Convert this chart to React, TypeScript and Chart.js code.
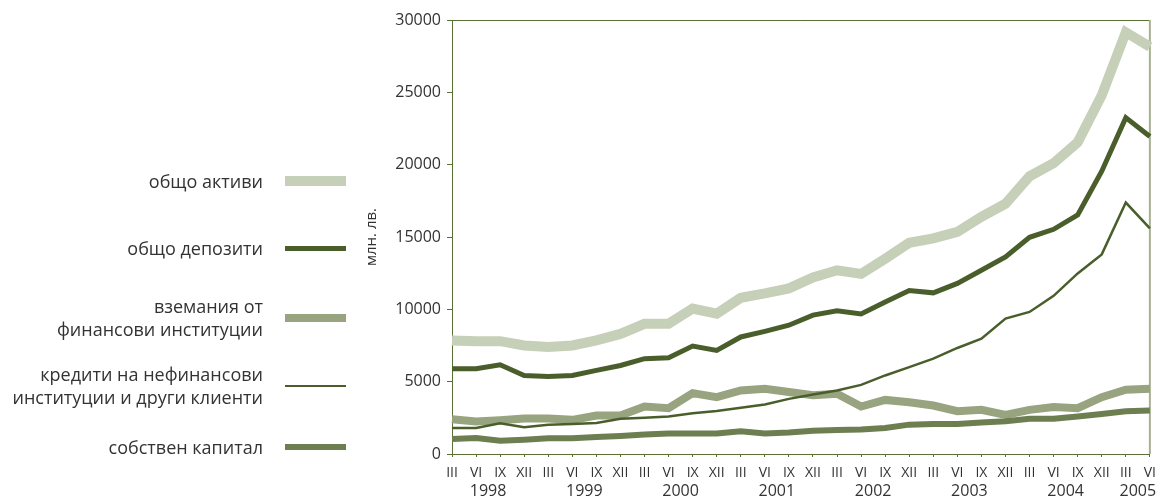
import React, { useEffect, useRef } from "react";
import { Chart, registerables } from "chart.js";

Chart.register(...registerables);

const quarters = [
  "III", "VI", "IX", "XII", "III", "VI", "IX", "XII", "III", "VI", "IX", "XII",
  "III", "VI", "IX", "XII", "III", "VI", "IX", "XII", "III", "VI", "IX", "XII",
  "III", "VI", "IX", "XII", "III", "VI",
];
const years = ["1998", "1999", "2000", "2001", "2002", "2003", "2004", "2005"];
const yearStart = [0, 4, 8, 12, 16, 20, 24, 28];
const yearEnd = [3, 7, 11, 15, 19, 23, 27, 29];

const totalAssets = [
  7850, 7800, 7800, 7500, 7400, 7500, 7850, 8300, 9000, 9000, 10050, 9700,
  10800, 11100, 11450, 12200, 12700, 12450, 13500, 14600, 14900, 15350, 16400, 17300,
  19200, 20100, 21550, 24800, 29150, 28150,
];
const totalDeposits = [
  5900, 5900, 6170, 5430, 5360, 5430, 5780, 6120, 6590, 6660, 7460, 7160,
  8090, 8480, 8900, 9600, 9900, 9680, 10500, 11300, 11140, 11790, 12700, 13630,
  14980, 15530, 16520, 19550, 23250, 21950,
];
const finReceivables = [
  2400, 2250, 2340, 2450, 2450, 2360, 2660, 2660, 3280, 3170, 4210, 3930,
  4390, 4510, 4280, 4060, 4160, 3280, 3740, 3580, 3350, 2960, 3050, 2700,
  3050, 3240, 3170, 3930, 4440, 4510,
];
const loans = [
  1800, 1800, 2130, 1850, 2030, 2080, 2150, 2430, 2500, 2590, 2820, 2980,
  3190, 3420, 3810, 4120, 4390, 4780, 5430, 6010, 6590, 7330, 7970, 9360,
  9820, 10930, 12480, 13800, 17380, 15600,
];
const equity = [
  1040, 1110, 920, 990, 1090, 1090, 1180, 1250, 1340, 1410, 1410, 1410,
  1570, 1410, 1480, 1600, 1660, 1690, 1800, 2030, 2080, 2080, 2170, 2260,
  2430, 2430, 2590, 2770, 2960, 3000,
];

const seriesLabels = [
  ["общо активи"],
  ["общо депозити"],
  ["вземания от", "финансови институции"],
  ["кредити на нефинансови", "институции и други клиенти"],
  ["собствен капитал"],
];
const seriesColors = ["#c6cfb8", "#4a5e2b", "#98a37f", "#4a5e2b", "#6d7f51"];
const seriesWidths = [10, 5, 8, 2.5, 6];
const seriesOrder = [5, 2, 4, 1, 3];
const legendY = [181, 248, 318, 386, 447];

const yTitle = "млн. лв.";
const FONT = "'Open Sans', 'DejaVu Sans', sans-serif";
const AXIS = "#5a7035";
const TEXT = "#333333";

export default function App() {
  const ref = useRef<HTMLCanvasElement | null>(null);

  useEffect(() => {
    if (!ref.current) return;
    const dataSets = [totalAssets, totalDeposits, finReceivables, loans, equity];

    const framePlugin = {
      id: "frame",
      beforeDatasetsDraw(chart: any) {
        const { ctx, chartArea } = chart;
        ctx.save();
        ctx.lineWidth = 1;
        ctx.strokeStyle = AXIS;
        ctx.beginPath();
        ctx.moveTo(chartArea.left, chartArea.top + 0.5);
        ctx.lineTo(chartArea.right, chartArea.top + 0.5);
        ctx.stroke();
        ctx.strokeStyle = "#a7b092";
        ctx.lineWidth = 2;
        ctx.beginPath();
        ctx.moveTo(chartArea.right, chartArea.top);
        ctx.lineTo(chartArea.right, chartArea.bottom);
        ctx.stroke();
        ctx.restore();
      },
      afterDraw(chart: any) {
        const { ctx } = chart;
        const xs = chart.scales.x;
        ctx.save();
        ctx.fillStyle = TEXT;
        ctx.font = `16px ${FONT}`;
        ctx.textAlign = "center";
        ctx.textBaseline = "middle";
        years.forEach((yr, i) => {
          const cx = (xs.getPixelForValue(yearStart[i]) + xs.getPixelForValue(yearEnd[i])) / 2;
          ctx.fillText(yr, cx, 491);
        });
        ctx.restore();
      },
    };

    const chart = new Chart(ref.current, {
      type: "line",
      data: {
        labels: quarters,
        datasets: dataSets.map((d, i) => ({
          label: seriesLabels[i].join(" "),
          data: d,
          borderColor: seriesColors[i],
          backgroundColor: seriesColors[i],
          borderWidth: seriesWidths[i],
          pointRadius: 0,
          tension: 0,
          fill: false,
          borderJoinStyle: "miter" as const,
          borderCapStyle: "butt" as const,
          order: seriesOrder[i],
        })),
      },
      options: {
        responsive: false,
        animation: false,
        layout: { padding: { left: 360, right: 8, top: 20, bottom: 0 } },
        plugins: { legend: { display: false }, tooltip: { enabled: false } },
        scales: {
          x: {
            type: "category",
            offset: false,
            grid: { display: true, drawOnChartArea: false, drawTicks: true, tickLength: 3, color: AXIS },
            border: { display: true, color: AXIS, width: 1 },
            ticks: {
              autoSkip: false,
              maxRotation: 0,
              minRotation: 0,
              padding: 8,
              color: TEXT,
              font: { family: FONT, size: 14 },
            },
            afterFit(scale: any) {
              scale.height = 45;
            },
          },
          y: {
            min: 0,
            max: 30000,
            grid: { display: true, drawOnChartArea: false, drawTicks: true, tickLength: 5, color: AXIS },
            border: { display: true, color: AXIS, width: 1 },
            ticks: {
              stepSize: 5000,
              padding: 6,
              color: TEXT,
              font: { family: FONT, size: 16 },
              callback: (v: any) => String(v),
            },
            title: {
              display: true,
              text: yTitle,
              color: TEXT,
              font: { family: FONT, size: 15 },
              padding: { top: 3, bottom: 0 },
            },
            afterFit(scale: any) {
              scale.width = 92;
            },
          },
        },
      },
      plugins: [framePlugin],
    });
    return () => chart.destroy();
  }, []);

  return (
    <div style={{ position: "fixed", left: 0, top: 0, width: 1164, height: 499, background: "#fff" }}>
      <canvas ref={ref} width={1164} height={499} style={{ position: "absolute", left: 0, top: 0, width: 1164, height: 499 }} />
      {seriesLabels.map((lines, i) => (
        <React.Fragment key={i}>
          <div
            style={{
              position: "absolute",
              right: 1164 - 263,
              top: legendY[i],
              transform: "translateY(-50%)",
              textAlign: "right",
              whiteSpace: "nowrap",
              fontFamily: FONT,
              fontSize: 18,
              lineHeight: "23px",
              color: TEXT,
            }}
          >
            {lines.map((l, j) => (
              <div key={j}>{l}</div>
            ))}
          </div>
          <div
            style={{
              position: "absolute",
              left: 285,
              width: 61,
              top: legendY[i] - seriesWidths[i] / 2,
              height: seriesWidths[i],
              background: seriesColors[i],
            }}
          />
        </React.Fragment>
      ))}
    </div>
  );
}
